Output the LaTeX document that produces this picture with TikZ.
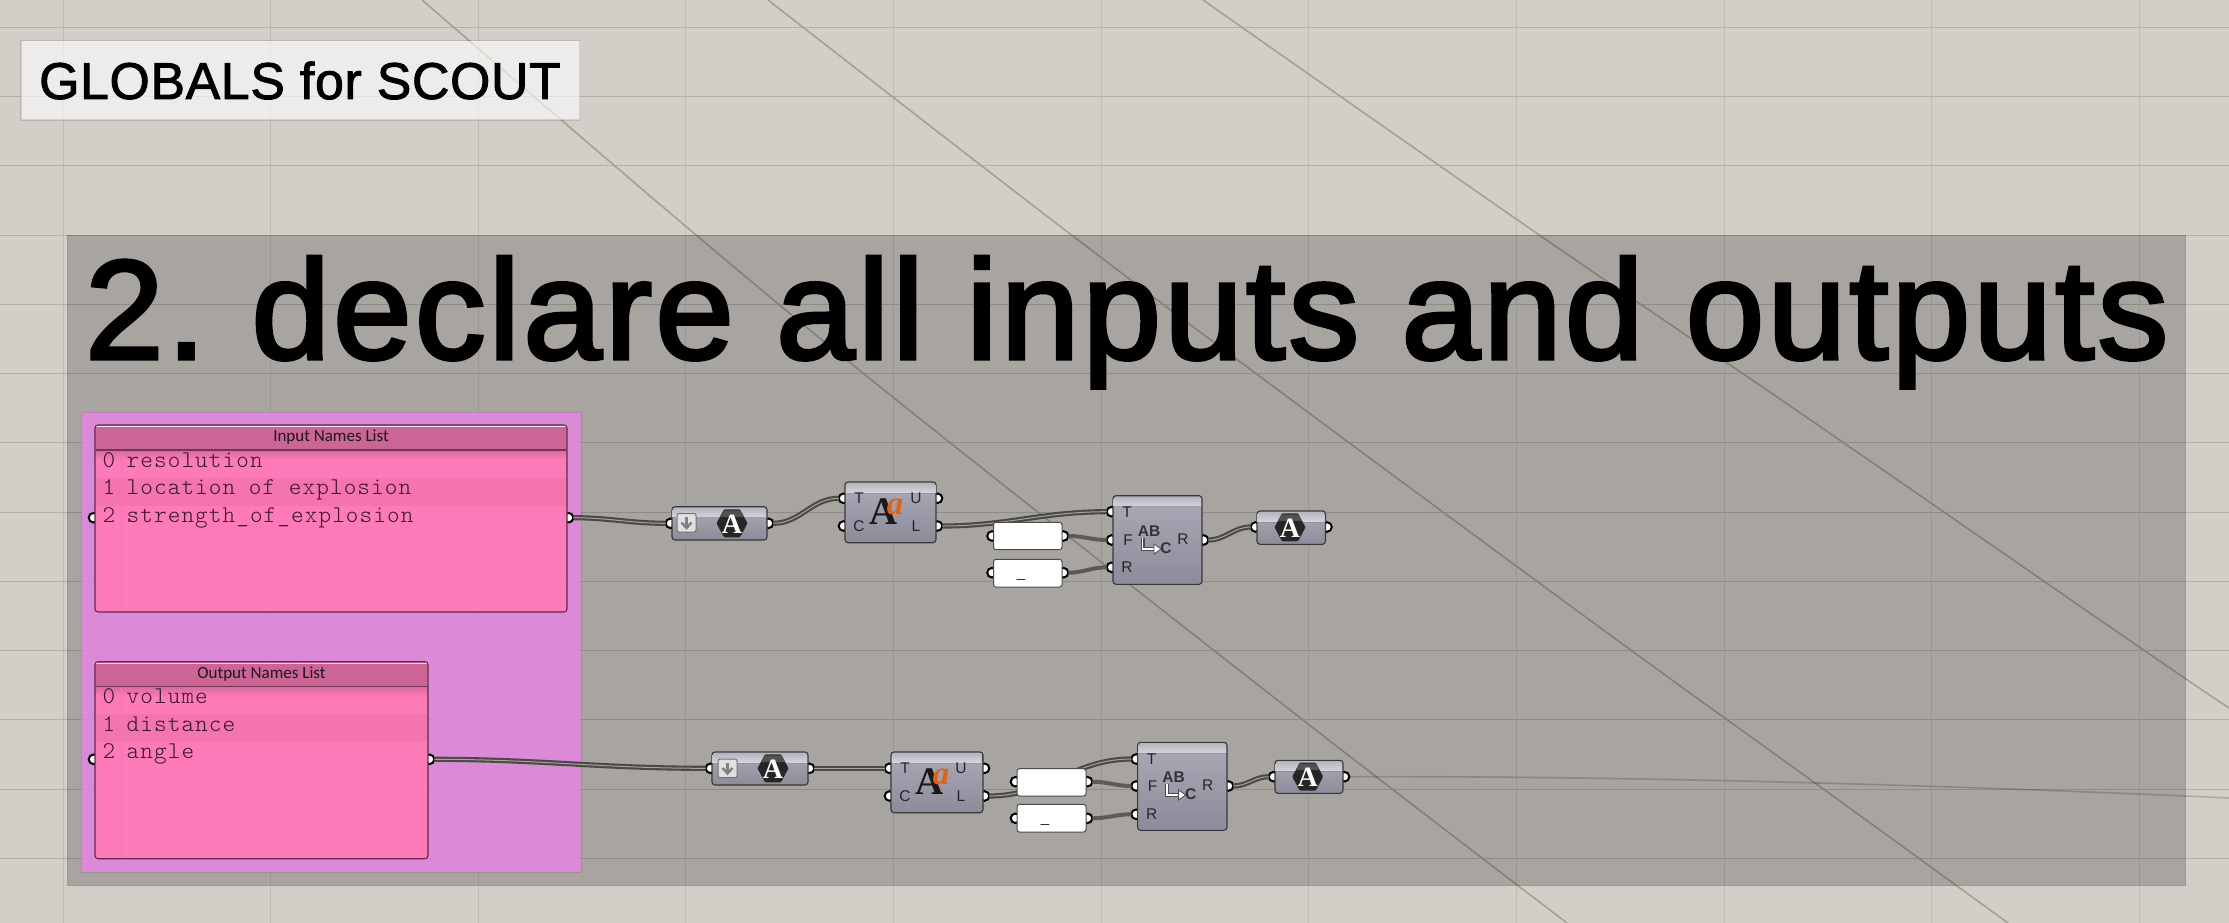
\documentclass[tikz,border=0pt]{standalone}
\usepackage{fontspec}
\setmainfont{Liberation Sans}
\newfontfamily\titlefont[LetterSpace=2.35,FakeBold=2.6]{Liberation Sans}
\newfontfamily\labelfont[LetterSpace=1.4,FakeBold=1.8]{Liberation Sans}
\newfontfamily\listfont[LetterSpace=4.6]{Latin Modern Mono Light}
\newfontfamily\headfont{Carlito}
\newfontfamily\gloss{Liberation Serif}
\definecolor{bgc}{HTML}{D3CFC8}
\definecolor{gridv}{HTML}{BFBCB5}
\definecolor{gridh}{HTML}{B3B0A9}
\definecolor{diag}{HTML}{A3A098}
\definecolor{groupc}{HTML}{E586E2}
\definecolor{listc}{HTML}{FF7AB8}
\definecolor{bandc}{HTML}{F374AE}
\definecolor{headc}{HTML}{CC6496}
\definecolor{bodyhi}{HTML}{ABABB8}
\definecolor{bodylo}{HTML}{8B8B99}
\definecolor{bandtop}{HTML}{B4B4BF}
\definecolor{bandlow}{HTML}{D6D6DE}
\definecolor{wirec}{HTML}{4A4943}
\definecolor{wirein}{HTML}{A5A29A}
\definecolor{orangea}{HTML}{E8600F}
\tikzset{
  x=1pt,y=-1pt,
  ghbody/.style={draw=black!78,line width=1.1pt,rounded corners=3pt,top color=bodyhi,bottom color=bodylo,inner sep=0pt,outer sep=0pt},
  ghpanel/.style={draw=black!70,line width=1pt,rounded corners=2.5pt,fill=white,inner sep=0pt,outer sep=0pt},
  bandfill/.style={top color=bandtop,bottom color=bandlow},
  grip/.style={circle,draw=black,fill=white,line width=2pt,minimum size=9.6pt,inner sep=0pt,outer sep=0pt},
  wire/.style={draw=wirec,double=wirein,double distance=1pt,line width=2.1pt},
  solidwire/.style={draw=wirec!90!white,line width=4pt},
  pinlabel/.style={font=\fontsize{15.5}{16}\selectfont,text=black!85,inner sep=0pt},
  listrow/.style={font=\fontsize{24}{24}\listfont,text=black!80!listc,inner sep=0pt,anchor=base west},
  listhead/.style={font=\fontsize{17}{18}\headfont,text=black!90,inner sep=0pt},
}
% box with the lighter band along its top
\newcommand{\ghcomp}[5]{%
  \pgfmathsetmacro\gcx{(#2+#4)/2}\pgfmathsetmacro\gcy{(#3+#5)/2}%
  \pgfmathsetmacro\gw{#4-#2}\pgfmathsetmacro\gh{#5-#3}%
  \node[ghbody,minimum width=\gw pt,minimum height=\gh pt] (#1) at (\gcx,\gcy) {};
  \fill[bandfill] (#2+.7,#3+11) [rounded corners=2.5pt] -- (#2+.7,#3+.7) -- (#4-.7,#3+.7) [sharp corners] -- (#4-.7,#3+11) -- cycle;
}
\newcommand{\ghpanelbox}[5]{%
  \pgfmathsetmacro\gcx{(#2+#4)/2}\pgfmathsetmacro\gcy{(#3+#5)/2}%
  \pgfmathsetmacro\gw{#4-#2}\pgfmathsetmacro\gh{#5-#3}%
  \node[ghpanel,minimum width=\gw pt,minimum height=\gh pt] (#1) at (\gcx,\gcy) {};
}
% hexagon with A
\newcommand{\ghhex}[3]{%
  \fill[black!85,rounded corners=1pt] (#2-15.5,#3) -- (#2-8,#3-14) -- (#2+8,#3-14) -- (#2+15.5,#3) -- (#2+8,#3+14) -- (#2-8,#3+14) -- cycle;
  \fill[black!68] (#2-12,#3-6.5) -- (#2-8,#3-13) -- (#2+8,#3-13) -- (#2+12,#3-6.5) -- cycle;
  \node[inner sep=0pt,text=white,font=\fontsize{28}{28}\gloss\bfseries] (#1) at (#2,#3+.5) {A};
}
% drop down button
\newcommand{\ghdrop}[2]{%
  \draw[fill=black!12,draw=black!55,line width=1pt,rounded corners=2pt] (#1,#2) rectangle (#1+19,#2+18.5);
  \draw[black!50,line width=2.4pt] (#1+9.5,#2+3.5) -- (#1+9.5,#2+14);
  \draw[black!50,line width=2.4pt] (#1+4.5,#2+9) -- (#1+9.5,#2+14.5) -- (#1+14.5,#2+9);
}
% the replace icon
\newcommand{\ghrep}[3]{%
  \node[inner sep=0pt,font=\fontsize{15.5}{16}\selectfont\bfseries,text=black!80] (#1ab) at (#2+36,#3-9.3) {AB};
  \node[inner sep=0pt,font=\fontsize{15.5}{16}\selectfont\bfseries,text=black!80] (#1c) at (#2+53,#3+8) {C};
  \draw[black!70,line width=4pt] (#2+29.5,#3-2) -- (#2+29.5,#3+9) -- (#2+41,#3+9);
  \draw[white,line width=1.8pt] (#2+29.5,#3-2) -- (#2+29.5,#3+9) -- (#2+43,#3+9);
  \fill[white,draw=black!70,line width=.8pt] (#2+41,#3+4) -- (#2+48,#3+9) -- (#2+41,#3+14) -- cycle;
}
% upper / lower icon
\newcommand{\ghcase}[3]{%
  \node[inner sep=0pt,font=\fontsize{39}{39}\gloss\bfseries,text=black!90] (#1big) at (#2,#3) {A};
  \node[inner sep=0pt,font=\fontsize{33}{33}\gloss\bfseries\itshape,text=orangea] (#1small) at (#2+11,#3-5) {a};
}
\newcommand{\ghlist}[6]{%
  % name x1 y1 x2 y2 title
  \pgfmathsetmacro\gcx{(#2+#4)/2}\pgfmathsetmacro\gcy{(#3+#5)/2}%
  \pgfmathsetmacro\gw{#4-#2}\pgfmathsetmacro\gh{#5-#3}%
  \node[fill=listc,rounded corners=3pt,minimum width=\gw pt,minimum height=\gh pt,inner sep=0pt,outer sep=0pt] (#1) at (\gcx,\gcy) {};
  \fill[top color=headc!75!listc,bottom color=listc] (#2+.7,#3+25) rectangle (#4-.7,#3+35);
  \fill[bandc] (#2+.7,#3+52.6) rectangle (#4-.7,#3+80.6);
  \draw[bandc,line width=.8pt] (121.5,#3+25) -- (121.5,#5-1);
  \fill[headc] (#2+.7,#3+25) [rounded corners=2.5pt] -- (#2+.7,#3+.7) -- (#4-.7,#3+.7) [sharp corners] -- (#4-.7,#3+25) -- cycle;
  \draw[headc!55!black,line width=1.5pt] (#2+.7,#3+25) -- (#4-.7,#3+25);
  \draw[white!85!headc,line width=.8pt] (#2+1.2,#3+1.2) -- (#4-1.2,#3+1.2);
  \draw[black!55!headc,line width=1.1pt,rounded corners=3pt] (#2,#3) rectangle (#4,#5);
  \node[listhead] (#1head) at (\gcx,#3+12.5) {#6};
}
\begin{document}
\begin{tikzpicture}
\useasboundingbox (0,0) rectangle (2229,923);
\fill[bgc] (0,0) rectangle (2229,923);
% grid
\foreach \k in {0,...,10}{\pgfmathsetmacro\gx{63+207.65*\k}\draw[gridv,line width=1pt] (\gx,0) -- (\gx,923);}
\foreach \k in {0,...,12}{\pgfmathsetmacro\gy{27.3+69.25*\k}\draw[gridh,line width=1pt] (0,\gy) -- (2229,\gy);}
% long wires
\draw[diag,line width=1.6pt] plot[smooth,tension=.6] coordinates {(422,0) (696,235) (909,410) (1300,717.7) (1567,923)};
\draw[diag,line width=1.6pt] plot[smooth,tension=.6] coordinates {(768,0) (1065,230) (1305,410) (1617,640) (1815,783) (2008,923)};
\draw[diag,line width=1.6pt] plot[smooth,tension=.6] coordinates {(1203,0) (1532,230) (1796,410) (2129,640) (2229,708)};
% main panel
\node[fill=black,fill opacity=.2,draw=black,draw opacity=.07,line width=1pt,minimum width=2118.5pt,minimum height=650.7pt,inner sep=0pt,outer sep=0pt] (panel) at (1126.25,560.35) {};
% label
\node[fill=white,fill opacity=.62,draw=black,draw opacity=.12,line width=1.2pt,minimum width=558.5pt,minimum height=79.3pt,inner sep=0pt,outer sep=0pt] (labelbox) at (300.25,80.35) {};
\node[anchor=base west,inner sep=0pt,font=\fontsize{51.7}{52}\labelfont] (labeltext) at (39,99) {GLOBALS for SCOUT};
\node[anchor=base west,inner sep=0pt,font=\fontsize{141}{141}\titlefont] (title) at (85,358.7) {2.\kern3pt\ declare all inputs and outputs};
% group
\node[fill=groupc,fill opacity=.85,draw=black,draw opacity=.1,line width=1pt,minimum width=500pt,minimum height=460pt,inner sep=0pt,outer sep=0pt] (group) at (331,642) {};
% grips
\node[grip] (lia) at (93.5,517.7) {}; \node[grip] (lib) at (568.5,517.7) {};
\node[grip] (loa) at (93.5,759.3) {}; \node[grip] (lob) at (429.5,759.3) {};
\node[grip] (a1i) at (670.5,523.3) {}; \node[grip] (a1o) at (768.5,523.3) {};
\node[grip] (c1t) at (843.5,498.3) {}; \node[grip] (c1c) at (843.5,526) {};
\node[grip] (c1u) at (937.5,498.3) {}; \node[grip] (c1l) at (937.5,526) {};
\node[grip] (p1i) at (992,536) {}; \node[grip] (p1o) at (1063.5,536) {};
\node[grip] (p2i) at (992,572.7) {}; \node[grip] (p2o) at (1063.5,572.7) {};
\node[grip] (s1t) at (1111.5,511.7) {}; \node[grip] (s1f) at (1111.5,540) {};
\node[grip] (s1r) at (1111.5,567.3) {}; \node[grip] (s1o) at (1203.5,540) {};
\node[grip] (f1i) at (1255.5,527) {}; \node[grip] (f1o) at (1327,527) {};
\node[grip] (a2i) at (710.5,768.3) {}; \node[grip] (a2o) at (809.5,768.3) {};
\node[grip] (c2t) at (889.5,768.3) {}; \node[grip] (c2c) at (889.5,796) {};
\node[grip] (c2u) at (984.5,768.3) {}; \node[grip] (c2l) at (984.5,796) {};
\node[grip] (p3i) at (1015.5,781.7) {}; \node[grip] (p3o) at (1087.5,781.7) {};
\node[grip] (p4i) at (1015.5,818.3) {}; \node[grip] (p4o) at (1087.5,818.3) {};
\node[grip] (s2t) at (1136.1,759) {}; \node[grip] (s2f) at (1136.1,786) {};
\node[grip] (s2r) at (1136.1,814.3) {}; \node[grip] (s2o) at (1228.5,786) {};
\node[grip] (f2i) at (1273.5,776.7) {}; \node[grip] (f2o) at (1344.5,776.7) {};
\coordinate (offright) at (2229,798);
% wires
\draw[wire] (lib.east) to[out=0,in=180] (a1i.west);
\draw[wire] (a1o.east) to[out=0,in=180] (c1t.west);
\draw[wire] (c1l.east) to[out=0,in=180] (s1t.west);
\draw[solidwire] (p1o.east) to[out=0,in=180] (s1f.west);
\draw[solidwire] (p2o.east) to[out=0,in=180] (s1r.west);
\draw[wire] (s1o.east) to[out=0,in=180] (f1i.west);
\draw[wire] (lob.east) to[out=0,in=180] (a2i.west);
\draw[wire] (a2o.east) to[out=0,in=180] (c2t.west);
\draw[wire] (c2l.east) to[out=0,in=180] (s2t.west);
\draw[solidwire] (p3o.east) to[out=0,in=180] (s2f.west);
\draw[solidwire] (p4o.east) to[out=0,in=180] (s2r.west);
\draw[wire] (s2o.east) to[out=0,in=180] (f2i.west);
\draw[black,draw opacity=.18,line width=1.6pt] (f2o.east) .. controls (1600,776) and (1900,783) .. (offright);
% lists
\ghlist{inlist}{95}{425}{567}{612}{Input Names List}
\foreach \nm/\yy/\ix/\tx in {ra/467/0/resolution,rb/494.5/1/location of explosion,rc/522/2/strength\_of\_explosion}{
  \node[listrow] (\nm i) at (102.5,\yy) {\ix};
  \node[listrow] (\nm t) at (126.5,\yy) {\tx};
}
\ghlist{outlist}{95}{661.7}{428}{858.7}{Output Names List}
\foreach \nm/\yy/\ix/\tx in {sa/703.5/0/volume,sb/731/1/distance,sc/758.5/2/angle}{
  \node[listrow] (\nm i) at (102.5,\yy) {\ix};
  \node[listrow] (\nm t) at (126.5,\yy) {\tx};
}
% row 1
\ghcomp{a1}{672}{506.7}{767}{540}
\ghdrop{677}{513.5}
\ghhex{a1hex}{732}{523.3}
\ghcomp{c1}{845}{482}{936}{542.7}
\ghcase{c1i}{884}{511.7}
\node[pinlabel] (c1tl) at (859,498) {T};
\node[pinlabel] (c1cl) at (859,526) {C};
\node[pinlabel] (c1ul) at (916,498) {U};
\node[pinlabel] (c1ll) at (916,526) {L};
\ghpanelbox{p1}{993.5}{522.3}{1062}{549.7}
\ghpanelbox{p2}{993.5}{559.3}{1062}{587}
\node[anchor=base,inner sep=0pt,font=\fontsize{15}{15}\selectfont,text=black!85] (p2t) at (1021,577) {\_};
\ghcomp{s1}{1113}{495.7}{1202}{584.3}
\node[pinlabel] (s1tl) at (1127,511.7) {T};
\node[pinlabel] (s1fl) at (1128,540) {F};
\node[pinlabel] (s1rl) at (1127,567) {R};
\node[pinlabel] (s1ol) at (1183,539) {R};
\ghrep{s1i}{1113}{540}
\ghcomp{f1}{1257}{511}{1325.5}{544.3}
\ghhex{f1hex}{1290}{527.3}
% row 2
\ghcomp{a2}{712}{752}{808}{785}
\ghdrop{718}{759}
\ghhex{a2hex}{773}{768.3}
\ghcomp{c2}{891}{752}{983}{812.7}
\ghcase{c2i}{930}{781.7}
\node[pinlabel] (c2tl) at (905,768.3) {T};
\node[pinlabel] (c2cl) at (905,796) {C};
\node[pinlabel] (c2ul) at (961,768.3) {U};
\node[pinlabel] (c2ll) at (961,796) {L};
\ghpanelbox{p3}{1017}{768.7}{1086}{796}
\ghpanelbox{p4}{1017}{804.3}{1086}{832}
\node[anchor=base,inner sep=0pt,font=\fontsize{15}{15}\selectfont,text=black!85] (p4t) at (1045,822) {\_};
\ghcomp{s2}{1137.6}{742.3}{1227}{830.3}
\node[pinlabel] (s2tl) at (1151.6,759) {T};
\node[pinlabel] (s2fl) at (1152.6,786) {F};
\node[pinlabel] (s2rl) at (1151.6,814) {R};
\node[pinlabel] (s2ol) at (1207.6,785.5) {R};
\ghrep{s2i}{1137.6}{786}
\ghcomp{f2}{1275}{760.3}{1343}{793.3}
\ghhex{f2hex}{1307.7}{776.7}
\end{tikzpicture}
\end{document}
